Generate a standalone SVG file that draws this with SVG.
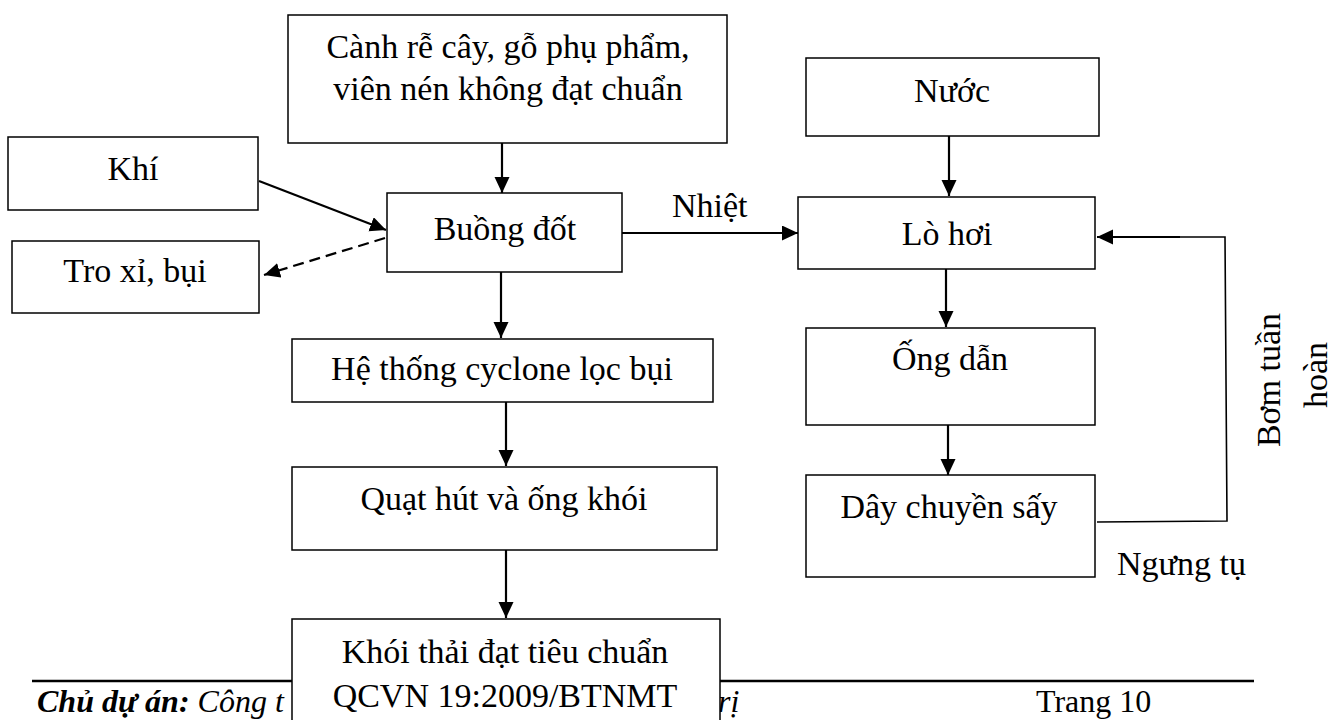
<svg xmlns="http://www.w3.org/2000/svg" width="1339" height="720" viewBox="0 0 1339 720">
<style>
.box{fill:#fff;stroke:#000;stroke-width:1.5}
.t{font-family:"Liberation Serif","Times New Roman",serif;font-size:34px;fill:#000;text-anchor:middle}
.lab{font-family:"Liberation Serif","Times New Roman",serif;font-size:34px;fill:#000}
.ar{stroke:#000;stroke-width:2.2;fill:none}
.thin{stroke:#000;stroke-width:1.6;fill:none}
.ft{font-family:"Liberation Serif","Times New Roman",serif;font-size:32px;fill:#000}
</style>
<defs>
<marker id="ah" markerUnits="userSpaceOnUse" markerWidth="18" markerHeight="16" refX="16" refY="7.5" orient="auto">
<path d="M0,0 L16,7.5 L0,15 z" fill="#000"/>
</marker>
</defs>
<rect width="1339" height="720" fill="#fff"/>
<g id="footer">
<line x1="32" y1="681" x2="1254" y2="681" stroke="#000" stroke-width="2.5"/>
<text class="ft" x="37" y="712"><tspan font-weight="bold" font-style="italic">Chủ dự án:</tspan><tspan font-style="italic"> Công t</tspan></text>
<text class="ft" x="718" y="712" font-style="italic">rị</text>
<text class="ft" x="1036" y="712">Trang 10</text>
</g>
<g id="connectors">
<line class="ar" x1="502" y1="143" x2="502" y2="193" marker-end="url(#ah)"/>
<line class="ar" x1="259" y1="181" x2="386" y2="230" marker-end="url(#ah)"/>
<line class="ar" x1="385" y1="238" x2="264" y2="275" stroke-dasharray="11,6" marker-end="url(#ah)"/>
<line class="ar" x1="622" y1="233" x2="798" y2="233" marker-end="url(#ah)"/>
<line class="ar" x1="501" y1="272" x2="501" y2="338" marker-end="url(#ah)"/>
<line class="ar" x1="506" y1="402" x2="506" y2="466" marker-end="url(#ah)"/>
<line class="ar" x1="506" y1="550" x2="506" y2="618" marker-end="url(#ah)"/>
<line class="ar" x1="949" y1="136" x2="949" y2="196" marker-end="url(#ah)"/>
<line class="ar" x1="946" y1="269" x2="946" y2="327" marker-end="url(#ah)"/>
<line class="ar" x1="948" y1="425" x2="948" y2="475" marker-end="url(#ah)"/>
<polyline class="thin" points="1097,522 1227,521 1225,237 1180,237"/>
<line class="ar" x1="1180" y1="237" x2="1097" y2="237" marker-end="url(#ah)"/>
<text class="lab" x="672" y="217">Nhiệt</text>
<text class="lab" x="1117" y="575">Ngưng tụ</text>
<text class="t" transform="translate(1280,380) rotate(-90)" x="0" y="0">Bơm tuần</text>
<text class="t" transform="translate(1327,375) rotate(-90)" x="0" y="0">hoàn</text>
</g>
<g id="node-canh">
<rect class="box" x="288" y="15" width="439" height="128"/>
<text class="t" x="508" y="58">Cành rễ cây, gỗ phụ phẩm,</text>
<text class="t" x="508" y="100">viên nén không đạt chuẩn</text>
</g>
<g id="node-khi">
<rect class="box" x="8" y="137" width="250" height="73"/>
<text class="t" x="133" y="180">Khí</text>
</g>
<g id="node-tro">
<rect class="box" x="12" y="241" width="247" height="72"/>
<text class="t" x="135" y="282">Tro xỉ, bụi</text>
</g>
<g id="node-buong">
<rect class="box" x="387" y="193" width="235" height="79"/>
<text class="t" x="505" y="240">Buồng đốt</text>
</g>
<g id="node-he">
<rect class="box" x="292" y="339" width="421" height="63"/>
<text class="t" x="502" y="380">Hệ thống cyclone lọc bụi</text>
</g>
<g id="node-quat">
<rect class="box" x="292" y="467" width="425" height="83"/>
<text class="t" x="504" y="510">Quạt hút và ống khói</text>
</g>
<g id="node-khoi">
<rect class="box" x="292" y="619" width="428" height="110"/>
<text class="t" x="505" y="663">Khói thải đạt tiêu chuẩn</text>
<text class="t" x="505" y="707">QCVN 19:2009/BTNMT</text>
</g>
<g id="node-nuoc">
<rect class="box" x="806" y="58" width="293" height="78"/>
<text class="t" x="952" y="102">Nước</text>
</g>
<g id="node-lohoi">
<rect class="box" x="798" y="197" width="297" height="72"/>
<text class="t" x="947" y="245">Lò hơi</text>
</g>
<g id="node-ong">
<rect class="box" x="806" y="328" width="289" height="97"/>
<text class="t" x="950" y="370">Ống dẫn</text>
</g>
<g id="node-day">
<rect class="box" x="806" y="475" width="289" height="102"/>
<text class="t" x="949" y="518">Dây chuyền sấy</text>
</g>
</svg>
